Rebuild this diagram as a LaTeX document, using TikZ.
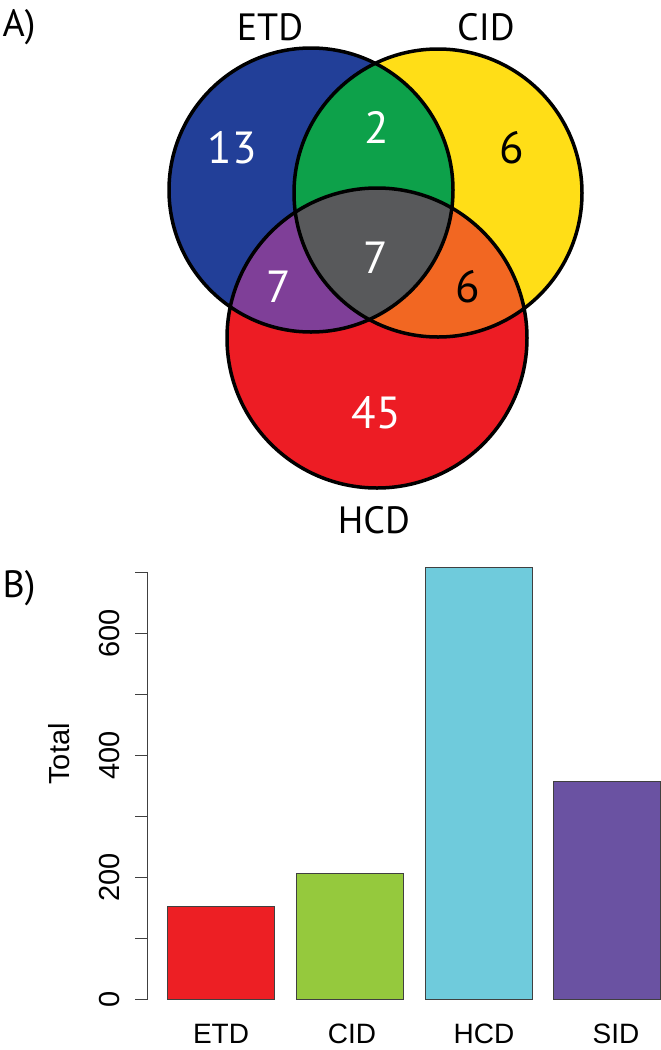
\documentclass[tikz,border=0pt]{standalone}
\usepackage{fontspec}
\setmainfont{PT Sans}
\newfontfamily\plotfont{Liberation Sans}
\usetikzlibrary{positioning}
\definecolor{ETDBlue}{RGB}{34,63,152}
\definecolor{CIDYellow}{RGB}{255,222,23}
\definecolor{HCDRed}{RGB}{237,28,36}
\definecolor{PairGreen}{RGB}{13,161,74}
\definecolor{PairPurple}{RGB}{127,63,152}
\definecolor{PairOrange}{RGB}{242,103,34}
\definecolor{CoreGrey}{RGB}{88,89,91}
\definecolor{BarRed}{RGB}{237,31,36}
\definecolor{BarGreen}{RGB}{149,201,61}
\definecolor{BarCyan}{RGB}{111,203,220}
\definecolor{BarPurple}{RGB}{106,82,162}

\begin{document}
\begin{tikzpicture}[x=1pt,y=-1pt,
  setlabel/.style={font=\fontsize{38}{38}\selectfont,inner sep=0pt},
  count/.style={font=\fontsize{45}{45}\selectfont,text=white,inner sep=0pt},
  outline/.style={draw=black,line width=3.5pt},
  bar/.style={draw=black!75,line width=1pt},
  axisline/.style={draw=black!75,line width=1.4pt},
  ticklabel/.style={font=\plotfont\fontsize{29}{29}\selectfont,rotate=90,inner sep=0pt},
  barlabel/.style={font=\plotfont\fontsize{28}{28}\selectfont,inner sep=0pt},
]
\useasboundingbox (0,0) rectangle (661,1050);

% panel A: Venn diagram
\coordinate (etd) at (311,190);
\coordinate (cid) at (438,193);
\coordinate (hcd) at (377,338);
\fill[ETDBlue] (etd) circle (142);
\fill[CIDYellow] (cid) circle (144);
\fill[HCDRed] (hcd) circle (150);
\begin{scope}
  \clip (etd) circle (142);
  \fill[PairGreen] (cid) circle (144);
  \fill[PairPurple] (hcd) circle (150);
\end{scope}
\begin{scope}
  \clip (cid) circle (144);
  \fill[PairOrange] (hcd) circle (150);
  \clip (etd) circle (142);
  \fill[CoreGrey] (hcd) circle (150);
\end{scope}
\draw[outline] (etd) circle (142);
\draw[outline] (cid) circle (144);
\draw[outline] (hcd) circle (150);

\node[setlabel] (lblA) at (19,27) {A)};
\node[setlabel] (lblETD) at (270,27) {ETD};
\node[setlabel] (lblCID) at (486,27) {CID};
\node[setlabel] (lblHCD) at (374,520) {HCD};

\node[count] (nETD) at (232,148) {13};
\node[count] (nEC) at (377,127) {2};
\node[count,text=black] (nCID) at (512,148) {6};
\node[count] (nAll) at (376,258) {7};
\node[count] (nEH) at (279,287) {7};
\node[count,text=black] (nCH) at (468,287) {6};
\node[count] (nHCD) at (376,413) {45};

% panel B: bar chart
\node[setlabel] (lblB) at (19,588) {B)};
\draw[axisline] (147.6,572.6) -- (147.6,999.4);
\foreach \v in {0,1,...,7}
  \draw[axisline] (135,999.4-\v*60.97) -- (147.6,999.4-\v*60.97);
\foreach \v/\t in {0/0,2/200,4/400,6/600}
  \node[ticklabel] (tick\v) at (110,999.4-\v*60.97) {\t};
\node[ticklabel] (ytitle) at (59,754) {Total};

\draw[bar,fill=BarRed] (167.4,999.4) rectangle (274.5,906.7);
\draw[bar,fill=BarGreen] (296.4,999.4) rectangle (403.5,873.8);
\draw[bar,fill=BarCyan] (425,999.4) rectangle (532,567.1);
\draw[bar,fill=BarPurple] (553.5,999.4) rectangle (660.5,781.1);

\node[barlabel] (xETD) at (221,1034) {ETD};
\node[barlabel] (xCID) at (352,1034) {CID};
\node[barlabel] (xHCD) at (484,1034) {HCD};
\node[barlabel] (xSID) at (616,1034) {SID};
\end{tikzpicture}
\end{document}
